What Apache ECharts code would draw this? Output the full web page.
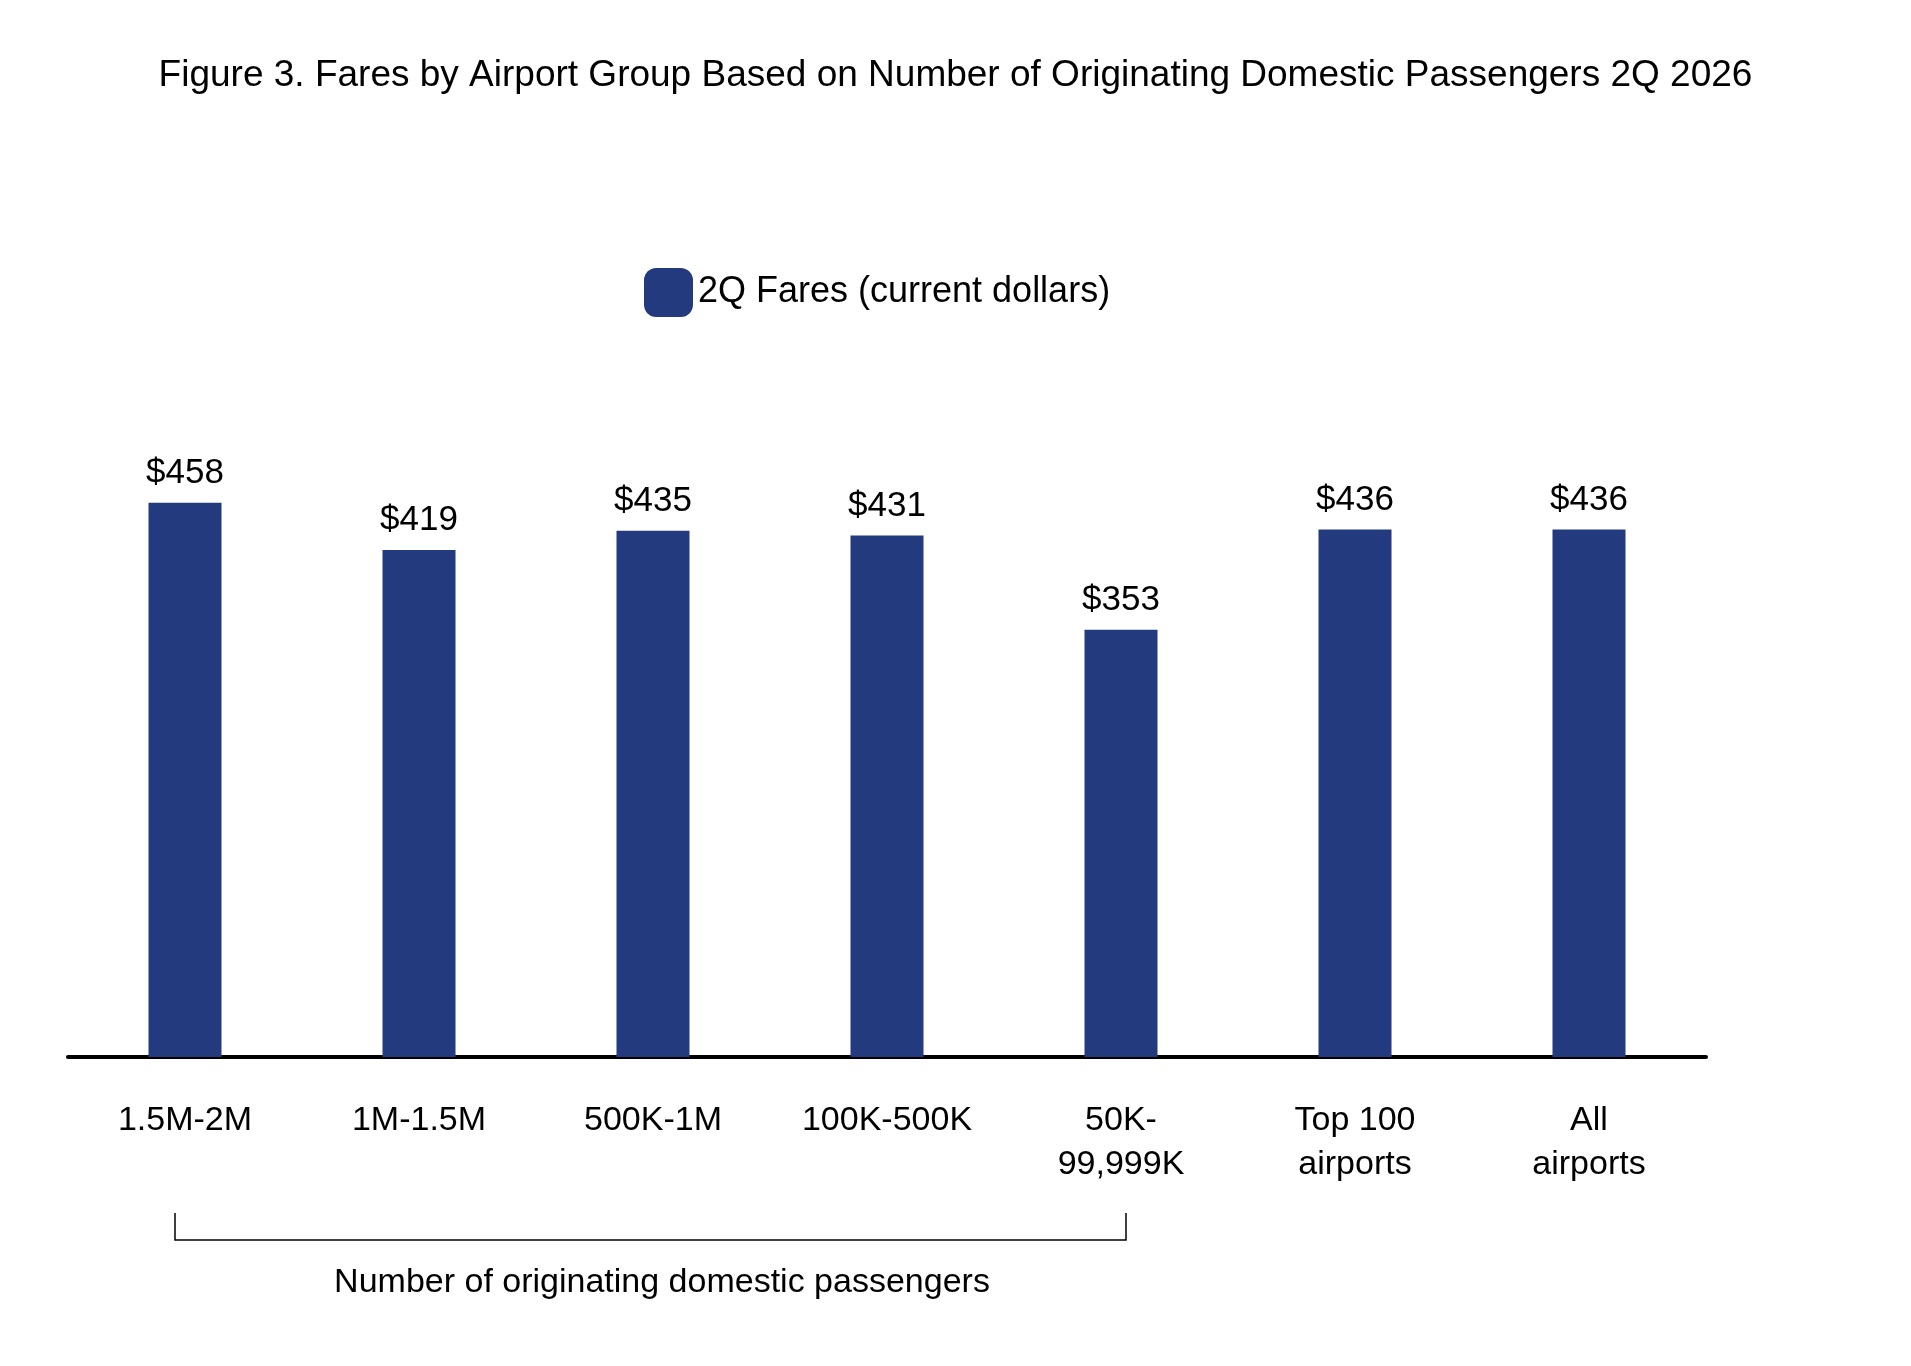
<!DOCTYPE html>
<html>
<head>
<meta charset="UTF-8"/>
<title>Fares by Airport Group</title>
<script src="https://cdn.jsdelivr.net/npm/echarts@6/dist/echarts.min.js"></script>
</head>
<body style="margin:0;background:#fff">
<div id="main" style="width:1911px;height:1366px;"></div>
<script type="text/javascript">
    var categories = ['1.5M-2M', '1M-1.5M', '500K-1M', '100K-500K', '50K-\n99,999K', 'Top 100\nairports', 'All\nairports'];
    var fares = [458, 419, 435, 431, 353, 436, 436];
    var font = 'Liberation Sans, Arial, sans-serif';

    var myChart = echarts.init(document.getElementById('main'));
    var option = {
        backgroundColor: '#fff',
        title: {
            text: 'Figure 3. Fares by Airport Group Based on Number of Originating Domestic Passengers 2Q 2026',
            left: 'center', top: 52,
            textStyle: { fontFamily: font, fontSize: 37, fontWeight: 'normal', color: '#000' }
        },
        legend: {
            data: ['2Q Fares (current dollars)'],
            left: 639, top: 263,
            itemWidth: 49, itemHeight: 49, itemGap: 20,
            textStyle: { fontFamily: font, fontSize: 36, color: '#000' }
        },
        grid: { left: 68, right: 1911 - 1706, top: 452, height: 605 },
        xAxis: {
            type: 'category',
            data: categories,
            axisLine: { lineStyle: { color: '#000', width: 4 } },
            axisTick: { show: false },
            axisLabel: { fontFamily: font, fontSize: 34, color: '#000', lineHeight: 44, margin: 42 }
        },
        yAxis: {
            type: 'value', min: 0, max: 500,
            show: false, splitLine: { show: false }
        },
        graphic: [
            { type: 'polyline', shape: { points: [[175, 1213], [175, 1240], [1126, 1240], [1126, 1213]] },
              style: { stroke: '#000', lineWidth: 1.5, fill: null } },
            { type: 'text', left: 'center', x: 0, style: { text: 'Number of originating domestic passengers', x: 662, y: 1283,
              font: '34px ' + font, fill: '#000', textAlign: 'center', textVerticalAlign: 'middle' } }
        ],
        series: [{
            name: '2Q Fares (current dollars)',
            type: 'bar',
            data: fares,
            barWidth: 73,
            itemStyle: { color: '#243a7e' },
            label: { show: true, position: 'top', distance: 12, formatter: '${c}',
                     fontFamily: font, fontSize: 35, color: '#000' }
        }]
    };
    option.graphic[1] = { type: 'text', x: 662, y: 1283, style: { text: 'Number of originating domestic passengers',
        font: '34px ' + font, fill: '#000', textAlign: 'center', textVerticalAlign: 'middle' } };
    myChart.setOption(option);
</script>
</body>
</html>
